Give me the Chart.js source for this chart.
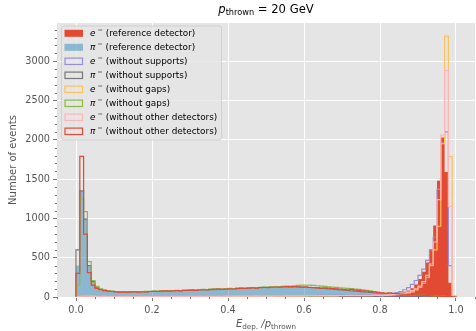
<!DOCTYPE html>
<html lang="en">
<head>
  <meta charset="UTF-8" />
  <title>E/p histogram - 20 GeV</title>
  <script src="https://cdn.jsdelivr.net/npm/chart.js"></script>
  <style>
    body {
      margin: 0;
      padding: 0;
      background-color: #fff;
    }
  </style>
</head>
<body>
  <canvas id="histChart" width="476" height="331"></canvas>
  <script>
    // histogram binning: 100 bins of 0.01 from 0 to 1
    const binWidth = 0.01;
    const xTickValues = [0, 0.2, 0.4, 0.6, 0.8, 1.0];
    const yTickValues = [0, 500, 1000, 1500, 2000, 2500, 3000];

    // counts per bin
    const eRef = [
      4, 12, 15, 13, 11, 10, 9, 9, 8, 8,
      8, 7, 8, 7, 7, 8, 7, 7, 8, 7,
      7, 8, 7, 8, 8, 7, 8, 8, 8, 9,
      8, 9, 8, 9, 9, 9, 10, 9, 10, 10,
      10, 11, 10, 11, 11, 12, 11, 12, 12, 13,
      12, 13, 13, 14, 13, 14, 14, 15, 15, 15,
      16, 16, 17, 17, 18, 18, 19, 19, 20, 20,
      21, 21, 22, 22, 23, 23, 24, 24, 25, 25,
      27, 30, 34, 40, 47, 56, 68, 84, 110, 160,
      230, 320, 440, 606, 910, 1480, 2030, 1590, 180, 0
    ];
    const piRef = [
      400, 1350, 1000, 400, 190, 120, 95, 82, 74, 68,
      64, 60, 62, 58, 61, 60, 63, 62, 65, 64,
      68, 66, 70, 72, 70, 74, 77, 75, 79, 80,
      82, 80, 85, 88, 86, 90, 92, 95, 93, 97,
      100, 98, 103, 105, 104, 108, 112, 110, 114, 117,
      116, 120, 122, 119, 124, 126, 122, 125, 121, 119,
      117, 114, 112, 108, 105, 102, 98, 95, 90, 86,
      82, 78, 74, 70, 66, 61, 57, 53, 49, 45,
      42, 39, 37, 34, 32, 30, 28, 26, 24, 22,
      20, 18, 16, 14, 12, 10, 9, 7, 5, 2
    ];
    const eNoSupports = [
      5, 14, 17, 15, 12, 11, 10, 9, 9, 8,
      8, 8, 8, 8, 7, 8, 8, 8, 8, 8,
      8, 8, 8, 9, 8, 9, 9, 9, 9, 9,
      9, 10, 9, 10, 10, 10, 11, 10, 11, 11,
      11, 12, 12, 12, 12, 13, 13, 13, 14, 14,
      14, 15, 15, 15, 16, 16, 16, 17, 17, 18,
      18, 19, 19, 20, 20, 21, 21, 22, 23, 23,
      24, 24, 25, 26, 26, 27, 28, 28, 29, 30,
      30, 34, 40, 47, 56, 70, 92, 120, 160, 210,
      275, 355, 465, 600, 760, 1370, 1960, 2100, 400, 0
    ];
    const piNoSupports = [
      600, 1350, 990, 400, 195, 125, 98, 85, 77, 71,
      67, 64, 66, 62, 65, 64, 68, 66, 69, 70,
      73, 71, 75, 78, 76, 80, 83, 80, 84, 86,
      88, 86, 91, 93, 92, 96, 99, 101, 98, 103,
      106, 104, 109, 112, 110, 115, 118, 117, 121, 124,
      123, 127, 129, 126, 131, 133, 129, 132, 128, 126,
      124, 121, 118, 115, 111, 108, 104, 100, 96, 91,
      87, 83, 78, 74, 70, 65, 61, 57, 52, 48,
      45, 42, 39, 36, 34, 32, 30, 28, 26, 24,
      22, 19, 17, 15, 13, 11, 9, 8, 6, 3
    ];
    const eNoGaps = [
      3, 8, 11, 10, 9, 8, 7, 7, 6, 6,
      6, 6, 6, 6, 6, 6, 6, 6, 6, 6,
      6, 6, 6, 6, 6, 7, 6, 7, 7, 7,
      7, 7, 7, 7, 8, 7, 8, 8, 8, 8,
      8, 8, 9, 9, 9, 9, 9, 10, 10, 10,
      10, 10, 11, 11, 11, 11, 12, 12, 12, 12,
      13, 13, 13, 14, 14, 14, 15, 15, 15, 16,
      16, 16, 17, 17, 17, 18, 18, 18, 19, 19,
      18, 20, 23, 26, 30, 35, 42, 52, 66, 90,
      125, 175, 250, 400, 600, 900, 1950, 3320, 1785, 12
    ];
    const piNoGaps = [
      150, 1250, 1085, 450, 210, 135, 105, 90, 82, 76,
      70, 67, 69, 64, 68, 66, 70, 69, 72, 73,
      76, 74, 78, 80, 79, 83, 85, 83, 87, 89,
      91, 89, 93, 96, 95, 99, 102, 104, 101, 106,
      109, 107, 112, 115, 113, 118, 121, 120, 124, 127,
      126, 130, 133, 131, 137, 140, 138, 143, 147, 150,
      152, 150, 147, 143, 139, 134, 130, 126, 122, 118,
      114, 110, 106, 101, 96, 91, 85, 78, 68, 58,
      50, 45, 41, 38, 35, 33, 31, 29, 27, 25,
      23, 20, 18, 16, 14, 12, 10, 8, 6, 3
    ];
    const eNoOther = [
      4, 10, 13, 12, 10, 9, 8, 8, 7, 7,
      7, 7, 7, 7, 7, 7, 7, 7, 7, 7,
      7, 7, 7, 8, 7, 8, 8, 8, 8, 8,
      8, 8, 8, 9, 9, 9, 9, 9, 9, 10,
      10, 10, 10, 10, 11, 11, 11, 11, 12, 12,
      12, 12, 13, 13, 13, 14, 14, 14, 15, 15,
      15, 16, 16, 16, 17, 17, 18, 18, 18, 19,
      19, 20, 20, 20, 21, 21, 22, 22, 23, 23,
      20, 23, 26, 30, 35, 42, 50, 62, 80, 105,
      140, 195, 275, 420, 700, 1240, 2060, 2880, 1150, 15
    ];
    const piNoOther = [
      300, 1790, 800, 310, 150, 110, 92, 82, 76, 70,
      66, 63, 65, 61, 64, 66, 62, 67, 66, 70,
      72, 70, 74, 77, 75, 79, 81, 79, 83, 85,
      87, 85, 89, 92, 90, 94, 97, 99, 96, 101,
      104, 102, 107, 110, 108, 112, 116, 114, 119, 121,
      120, 124, 127, 124, 130, 132, 128, 131, 127, 125,
      128, 124, 120, 117, 114, 118, 112, 108, 103, 99,
      95, 92, 97, 88, 84, 79, 74, 70, 65, 58,
      52, 47, 53, 46, 42, 38, 35, 32, 29, 26,
      23, 20, 18, 16, 13, 11, 9, 7, 5, 2
    ];

    const FONT = '"DejaVu Sans", sans-serif';

    // [particle, label, counts, colour, filled]
    const series = [
      ['e', ' (reference detector)', eRef, '#E24A33', true],
      ['π', ' (reference detector)', piRef, 'rgba(52,138,189,0.5)', true],
      ['e', ' (without supports)', eNoSupports, '#988ED5', false],
      ['π', ' (without supports)', piNoSupports, '#777777', false],
      ['e', ' (without gaps)', eNoGaps, '#FBC15E', false],
      ['π', ' (without gaps)', piNoGaps, '#8EBA42', false],
      ['e', ' (without other detectors)', eNoOther, '#FFB5B8', false],
      ['π', ' (without other detectors)', piNoOther, '#E24A33', false]
    ];

    // outline of a histogram as step points at the bin edges
    function toSteps(counts) {
      const pts = [{ x: 0, y: 0 }];
      counts.forEach((c, i) => pts.push({ x: i * binWidth, y: c }));
      pts.push({ x: counts.length * binWidth, y: 0 });
      return pts;
    }

    // draw text pieces with italics / sub- and superscripts
    function drawRich(ctx, parts, x, y, align) {
      const fontOf = p => (p[2] ? 'italic ' : '') + p[1] + 'px ' + FONT;
      let w = 0;
      parts.forEach(p => { ctx.font = fontOf(p); w += ctx.measureText(p[0]).width; });
      let cx = align === 'center' ? x - w / 2 : x;
      ctx.textAlign = 'left';
      ctx.textBaseline = 'middle';
      parts.forEach(p => {
        ctx.font = fontOf(p);
        ctx.fillText(p[0], cx, y + (p[3] || 0));
        cx += ctx.measureText(p[0]).width;
      });
    }

    const decorations = {
      id: 'decorations',
      beforeDraw(chart) {
        const { ctx, chartArea: a } = chart;
        ctx.save();
        ctx.fillStyle = '#fff';
        ctx.fillRect(0, 0, chart.width, chart.height);
        ctx.fillStyle = '#E5E5E5';
        ctx.fillRect(a.left, a.top, a.right - a.left, a.bottom - a.top);
        ctx.restore();
      },
      afterDraw(chart) {
        const { ctx, chartArea: a, scales: { x, y } } = chart;
        ctx.save();

        // minor ticks
        ctx.strokeStyle = '#555';
        ctx.lineWidth = 0.8;
        ctx.beginPath();
        for (let k = -1; k <= 21; k++) {
          if (k % 4 === 0) continue;
          const px = Math.round(x.getPixelForValue(k * 0.05)) + 0.5;
          ctx.moveTo(px, a.bottom);
          ctx.lineTo(px, a.bottom + 2.2);
        }
        for (let k = 1; k <= 34; k++) {
          if (k % 5 === 0) continue;
          const py = Math.round(y.getPixelForValue(k * 100)) + 0.5;
          ctx.moveTo(a.left, py);
          ctx.lineTo(a.left - 2.2, py);
        }
        ctx.stroke();

        // title and axis labels
        ctx.fillStyle = '#000';
        drawRich(ctx, [['p', 11.6, true, 0], ['thrown', 8.2, false, 3], [' = 20 GeV', 11.6, false, 0]],
          (a.left + a.right) / 2, 10, 'center');
        ctx.fillStyle = '#555';
        drawRich(ctx, [['E', 10, true, 0], ['dep.', 7.2, false, 2.5], [' /', 10, true, 0],
          ['p', 10, true, 0], ['thrown', 7.2, false, 2.5]],
          (a.left + a.right) / 2, 324.5, 'center');
        ctx.save();
        ctx.translate(13, (a.top + a.bottom) / 2);
        ctx.rotate(-Math.PI / 2);
        drawRich(ctx, [['Number of events', 10, false, 0]], 0, 0, 'center');
        ctx.restore();

        // legend
        const lx = 61.5, ly = 26, lw = 160, lh = 114;
        ctx.fillStyle = 'rgba(229,229,229,0.8)';
        ctx.strokeStyle = 'rgba(204,204,204,0.8)';
        ctx.lineWidth = 1;
        ctx.beginPath();
        ctx.roundRect(lx, ly, lw, lh, 2.5);
        ctx.fill();
        ctx.stroke();
        series.forEach((s, i) => {
          const cy = 33.3 + i * 14.0;
          if (s[4]) {
            ctx.fillStyle = s[3];
            ctx.fillRect(64.5, cy - 3.5, 18.5, 7);
          } else {
            ctx.strokeStyle = s[3];
            ctx.lineWidth = 1.2;
            ctx.strokeRect(65, cy - 3.2, 17.5, 6.4);
          }
          ctx.fillStyle = '#000';
          drawRich(ctx, [[s[0], 8.9, true, 0], [' −', 6.4, false, -3], [s[1], 8.9, false, 0]], 90, cy, 'left');
        });

        ctx.restore();
      }
    };

    const ctx = document.getElementById('histChart').getContext('2d');
    const histChart = new Chart(ctx, {
      type: 'line',
      data: {
        datasets: series.map((s, i) => ({
          label: s[0] + '⁻' + s[1],
          data: toSteps(s[2]),
          stepped: true,
          borderColor: s[3],
          backgroundColor: s[3],
          borderWidth: s[4] ? 0 : 1.2,
          fill: s[4] ? 'origin' : false,
          pointRadius: 0,
          order: series.length - 1 - i
        }))
      },
      options: {
        responsive: false,
        animation: false,
        devicePixelRatio: 1,
        layout: { padding: { top: 23, right: 1, left: 0, bottom: 0 } },
        plugins: {
          legend: { display: false },
          tooltip: { enabled: false }
        },
        scales: {
          x: {
            type: 'linear',
            min: -0.05,
            max: 1.05,
            afterBuildTicks: s => { s.ticks = xTickValues.map(v => ({ value: v })); },
            afterFit: s => { s.height = 34; },
            border: { display: false },
            grid: { color: '#fff', lineWidth: 1, tickColor: '#555', tickLength: 4, tickWidth: 0.8 },
            ticks: {
              color: '#555',
              font: { family: FONT, size: 9.7 },
              padding: 4,
              maxRotation: 0,
              autoSkip: false,
              callback: v => v.toFixed(1)
            }
          },
          y: {
            min: 0,
            max: 3486,
            afterBuildTicks: s => { s.ticks = yTickValues.map(v => ({ value: v })); },
            afterFit: s => { s.width = 57; },
            border: { display: false },
            grid: { color: '#fff', lineWidth: 1, tickColor: '#555', tickLength: 4, tickWidth: 0.8 },
            ticks: {
              color: '#555',
              font: { family: FONT, size: 9.7 },
              padding: 3,
              autoSkip: false,
              callback: v => String(v)
            }
          }
        }
      },
      plugins: [decorations]
    });
  </script>
</body>
</html>
